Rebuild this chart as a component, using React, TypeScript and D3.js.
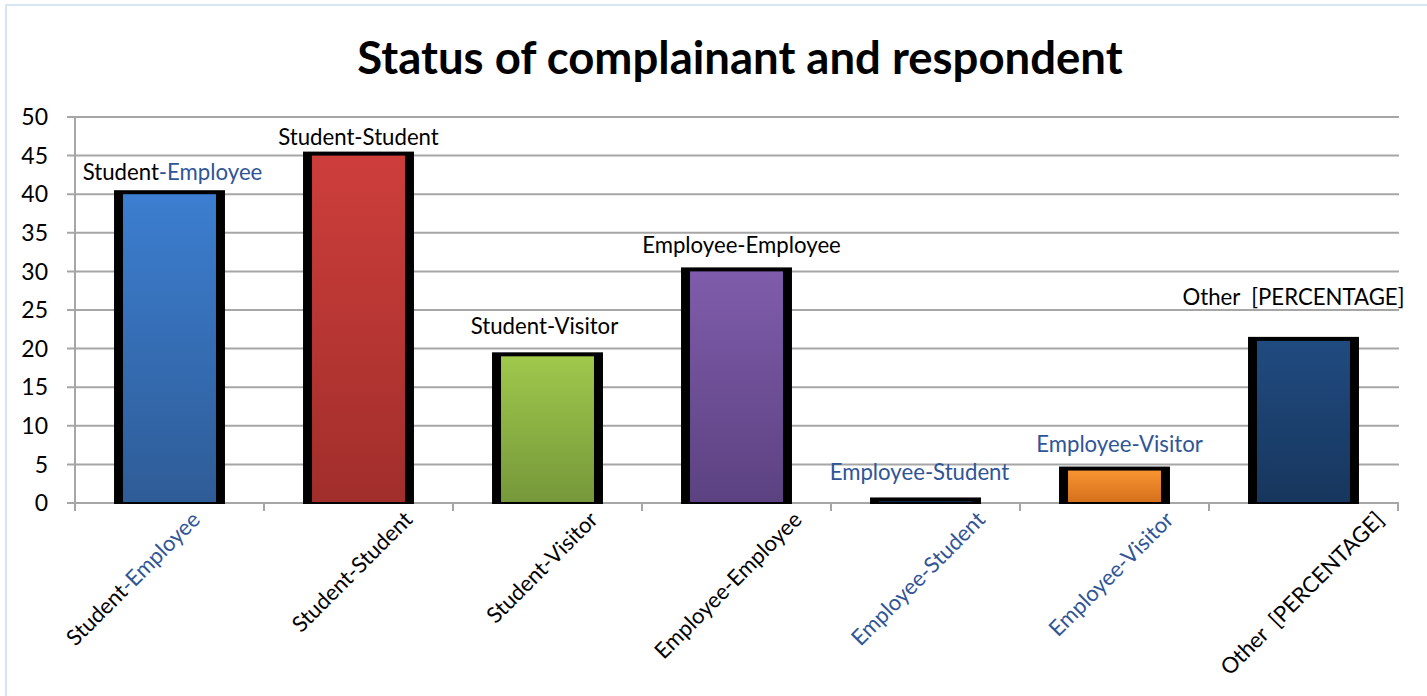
import React, { useEffect, useRef } from 'react';
import * as d3 from 'd3';

const categories = [
  'Student-Employee',
  'Student-Student',
  'Student-Visitor',
  'Employee-Employee',
  'Employee-Student',
  'Employee-Visitor',
  'Other  [PERCENTAGE]',
];
const values = [40, 45, 19, 30, 0.2, 4.2, 21];
const yTicks = [0, 5, 10, 15, 20, 25, 30, 35, 40, 45, 50];
// index where the blue part of a label starts (-1 = all black)
const blueFrom = [7, -1, -1, -1, 0, 0, -1];

const barColors = [
  ['#3c7ed0', '#2e5c97'],
  ['#cd3e3b', '#a12e2b'],
  ['#9fc84c', '#76983a'],
  ['#7f5cab', '#5c4281'],
  ['#f89431', '#d5701c'],
  ['#204b80', '#17365d'],
];
const barColorIdx = [0, 1, 2, 3, 5, 4, 5];

// small manual nudges of the data labels, like in the original sheet
const labelDx = [3, 0, -3, 5, -6, 5, -10];
const labelDy = [4, 7, -4, 0, -3, -1, -18];
const axisLabelDx = [-31, -1, 0, -3, -2, 2, 4];

const W = 1427;
const H = 696;
const BLUE = '#2f5597';
const FONT = 'Lato, "Open Sans", sans-serif';

const App: React.FC = () => {
  const svgRef = useRef<SVGSVGElement | null>(null);

  useEffect(() => {
    if (!svgRef.current) return;
    const svg = d3.select(svgRef.current);
    svg.selectAll('*').remove();

    const left = 75;
    const right = 1398;
    const top = 117;
    const bottom = 503;

    const x = d3.scaleBand<string>().domain(categories).range([left, right]).padding(0);
    const y = d3.scaleLinear().domain([0, 50]).range([bottom, top]);

    // outer chart border
    svg
      .append('rect')
      .attr('x', 6)
      .attr('y', 5)
      .attr('width', W + 40)
      .attr('height', H + 40)
      .attr('fill', '#fff')
      .attr('stroke', '#d9e4f3')
      .attr('stroke-width', 2);

    // gradients
    const defs = svg.append('defs');
    barColors.forEach((c, i) => {
      const g = defs
        .append('linearGradient')
        .attr('id', `grad${i}`)
        .attr('x1', 0)
        .attr('y1', 0)
        .attr('x2', 0)
        .attr('y2', 1);
      g.append('stop').attr('offset', '0%').attr('stop-color', c[0]);
      g.append('stop').attr('offset', '100%').attr('stop-color', c[1]);
    });

    // title
    svg
      .append('text')
      .attr('x', 740)
      .attr('y', 74)
      .attr('text-anchor', 'middle')
      .attr('font-family', FONT)
      .attr('font-weight', 700)
      .attr('font-size', 45.5)
      .attr('fill', '#000')
      .text('Status of complainant and respondent');

    // gridlines + y labels
    svg
      .append('g')
      .selectAll('line')
      .data(yTicks)
      .enter()
      .append('line')
      .attr('x1', left - 8)
      .attr('x2', right + 1)
      .attr('y1', (d) => y(d))
      .attr('y2', (d) => y(d))
      .attr('stroke', '#a6a6a6')
      .attr('stroke-width', 2);

    svg
      .append('g')
      .selectAll('text')
      .data(yTicks)
      .enter()
      .append('text')
      .attr('x', 48)
      .attr('y', (d) => y(d))
      .attr('dy', '0.36em')
      .attr('text-anchor', 'end')
      .attr('font-family', FONT)
      .attr('font-size', 23)
      .attr('fill', '#000')
      .text((d) => d);

    // y axis line
    svg
      .append('line')
      .attr('x1', left)
      .attr('x2', left)
      .attr('y1', top)
      .attr('y2', bottom)
      .attr('stroke', '#a6a6a6')
      .attr('stroke-width', 2);

    // x ticks
    const bounds = categories.map((c) => x(c) as number).concat([right]);
    svg
      .append('g')
      .selectAll('line')
      .data(bounds)
      .enter()
      .append('line')
      .attr('x1', (d) => d)
      .attr('x2', (d) => d)
      .attr('y1', bottom)
      .attr('y2', bottom + 8)
      .attr('stroke', '#a6a6a6')
      .attr('stroke-width', 2);

    // bars
    const bw = x.bandwidth() * 0.587;
    const inset = 9;
    const bars = svg
      .append('g')
      .selectAll('g')
      .data(values)
      .enter()
      .append('g');

    bars
      .append('rect')
      .attr('x', (_d, i) => (x(categories[i]) as number) + x.bandwidth() / 2 - bw / 2)
      .attr('y', (d) => y(d) - 4)
      .attr('width', bw)
      .attr('height', (d) => bottom - y(d) + 5)
      .attr('fill', '#000');

    bars
      .append('rect')
      .attr('x', (_d, i) => (x(categories[i]) as number) + x.bandwidth() / 2 - bw / 2 + inset)
      .attr('y', (d) => y(d))
      .attr('width', bw - inset * 2)
      .attr('height', (d) => Math.max(0, bottom - y(d) - 1))
      .attr('fill', (_d, i) => `url(#grad${barColorIdx[i]})`);

    const addParts = (sel: d3.Selection<SVGTextElement, string, any, any>) => {
      sel.each(function (d, i) {
        const t = d3.select(this);
        const k = blueFrom[i];
        if (k < 0) {
          t.append('tspan').attr('fill', '#000').text(d);
        } else {
          if (k > 0) t.append('tspan').attr('fill', '#000').text(d.slice(0, k));
          t.append('tspan').attr('fill', BLUE).text(d.slice(k));
        }
      });
    };

    // data labels
    const dl = svg
      .append('g')
      .selectAll('text')
      .data(categories)
      .enter()
      .append('text')
      .attr('x', (d, i) => (x(d) as number) + x.bandwidth() / 2 + labelDx[i])
      .attr('y', (_d, i) => y(values[i]) - 18 + labelDy[i])
      .attr('text-anchor', 'middle')
      .attr('font-family', FONT)
      .attr('font-size', 22.2)
      .style('white-space', 'pre');
    addParts(dl as any);

    // x axis labels, rotated
    const xl = svg
      .append('g')
      .selectAll('text')
      .data(categories)
      .enter()
      .append('text')
      .attr('text-anchor', 'end')
      .attr('font-family', FONT)
      .attr('font-size', 22)
      .style('white-space', 'pre');
    addParts(xl as any);
    xl.attr('transform', function (d, i) {
      const L = (this as SVGTextElement).getComputedTextLength();
      const ex = (x(d) as number) + x.bandwidth() / 2 + (Math.SQRT1_2 * L) / 2 + axisLabelDx[i];
      const ey = bottom + 18;
      return `translate(${ex},${ey}) rotate(-45)`;
    });
  }, []);

  return (
    <svg
      ref={svgRef}
      width={W}
      height={H}
      viewBox={`0 0 ${W} ${H}`}
      style={{ position: 'absolute', left: 0, top: 0, background: '#fff' }}
    ></svg>
  );
};

export default App;
